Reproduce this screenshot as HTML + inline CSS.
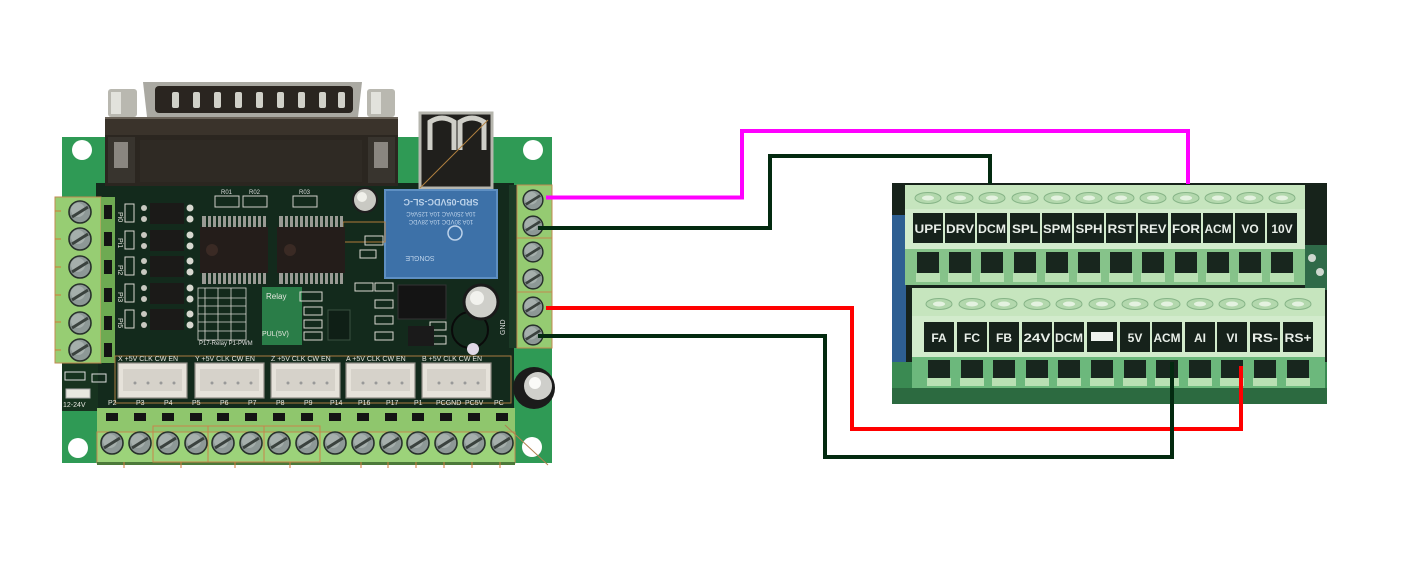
<!DOCTYPE html>
<html><head><meta charset="utf-8"><style>
html,body{margin:0;padding:0;background:#fff;width:1413px;height:571px;overflow:hidden}
svg{display:block}
text{font-family:"Liberation Sans",sans-serif}
</style></head><body>
<svg width="1413" height="571" viewBox="0 0 1413 571" xmlns="http://www.w3.org/2000/svg">
<defs>
<g id="scr"><circle r="11" fill="#8d9896" stroke="#27302b" stroke-width="1.6"/><circle cx="-2" cy="-2" r="7" fill="#b9c2c0" opacity=".55"/><line x1="-8" y1="5" x2="8" y2="-5" stroke="#3a423e" stroke-width="3"/></g>
<g id="ts"><ellipse rx="13" ry="5.5" fill="#b3d8ad" stroke="#86b487" stroke-width="1"/><ellipse rx="6" ry="2.5" fill="#e4f2e0"/></g>
<g id="opto"><rect x="0" y="0" width="34" height="21" fill="#1b1a18"/><circle cx="40" cy="5" r="3.5" fill="#d8d8d0"/><circle cx="40" cy="16" r="3.5" fill="#d8d8d0"/><circle cx="-6" cy="5" r="3" fill="#c8c8c0"/><circle cx="-6" cy="16" r="3" fill="#c8c8c0"/></g>
<g id="jst"><rect x="0" y="0" width="69" height="35" fill="#e6e2da" stroke="#8e8a84" stroke-width="1.2"/><rect x="5" y="6" width="59" height="22" fill="#d6d2ca"/><circle cx="17" cy="20" r="1.5" fill="#999"/><circle cx="30" cy="20" r="1.5" fill="#999"/><circle cx="43" cy="20" r="1.5" fill="#999"/><circle cx="56" cy="20" r="1.5" fill="#999"/></g>
</defs>

<!-- ================= LEFT BOARD ================= -->
<rect x="62" y="137" width="490" height="326" fill="#2f9a55"/>
<rect x="96" y="183" width="418" height="226" fill="#132a1c"/>
<rect x="62" y="363" width="36" height="48" fill="#17331f"/>
<!-- corner holes -->
<circle cx="82" cy="150" r="10" fill="#fff"/>
<circle cx="533" cy="150" r="10" fill="#fff"/>
<circle cx="78" cy="448" r="10" fill="#fff"/>
<circle cx="532" cy="447" r="10" fill="#fff"/>

<!-- DB25 connector -->
<rect x="105" y="117" width="293" height="69" fill="#2b2620"/>
<rect x="105" y="117" width="293" height="18" fill="#3a332b"/>
<rect x="105" y="117" width="293" height="2" fill="#6a6258"/>
<rect x="108" y="137" width="27" height="46" fill="#38342e"/>
<rect x="114" y="142" width="14" height="26" fill="#8a8680"/>
<rect x="368" y="137" width="27" height="46" fill="#38342e"/>
<rect x="374" y="142" width="14" height="26" fill="#8a8680"/>
<rect x="140" y="140" width="222" height="42" fill="#2f2a24"/>
<path d="M143 82 H362 L358 117 H147 Z" fill="#aaa9a2"/>
<rect x="155" y="86" width="198" height="27" rx="4" fill="#2a2520"/>
<g fill="#d0d0c8">
<rect x="172" y="92" width="7" height="16" rx="2"/><rect x="193" y="92" width="7" height="16" rx="2"/><rect x="214" y="92" width="7" height="16" rx="2"/><rect x="235" y="92" width="7" height="16" rx="2"/><rect x="256" y="92" width="7" height="16" rx="2"/><rect x="277" y="92" width="7" height="16" rx="2"/><rect x="298" y="92" width="7" height="16" rx="2"/><rect x="319" y="92" width="7" height="16" rx="2"/><rect x="338" y="92" width="7" height="16" rx="2"/>
</g>
<rect x="108" y="89" width="29" height="28" rx="3" fill="#b9b8b0"/>
<rect x="111" y="92" width="10" height="22" fill="#e2e2dc"/>
<rect x="367" y="89" width="28" height="28" rx="3" fill="#b9b8b0"/>
<rect x="371" y="92" width="10" height="22" fill="#e2e2dc"/>

<!-- USB -->
<rect x="420" y="113" width="72" height="75" fill="#201f1c" stroke="#b6b6ae" stroke-width="3"/>
<path d="M430 150 V122 Q442 114 454 122 V150" fill="none" stroke="#cfcfc8" stroke-width="5"/>
<path d="M460 150 V122 Q472 114 484 122 V150" fill="none" stroke="#cfcfc8" stroke-width="5"/>
<line x1="420" y1="188" x2="488" y2="120" stroke="#b08040" stroke-width="1"/>

<!-- Relay -->
<rect x="385" y="190" width="112" height="88" fill="#3d71a8" stroke="#5e8fc2" stroke-width="2"/>
<text x="441" y="205" transform="rotate(180 441 202)" font-size="9" fill="#bcd2ea" text-anchor="middle" font-weight="bold">SRD-05VDC-SL-C</text>
<text x="441" y="218" transform="rotate(180 441 215)" font-size="6" fill="#bcd2ea" text-anchor="middle">10A 250VAC 10A 125VAC</text>
<text x="441" y="226" transform="rotate(180 441 223)" font-size="6" fill="#bcd2ea" text-anchor="middle">10A 30VDC 10A 28VDC</text>
<circle cx="455" cy="233" r="7" fill="none" stroke="#bcd2ea" stroke-width="1.5"/>
<text x="420" y="262" transform="rotate(180 420 259)" font-size="7" fill="#bcd2ea" text-anchor="middle">SONGLE</text>
<rect x="343" y="222" width="42" height="20" fill="none" stroke="#b07a3a" stroke-width="1"/>

<!-- ICs -->
<g fill="#9a9a94">
<rect x="202" y="216" width="64" height="11"/><rect x="279" y="216" width="64" height="11"/>
<rect x="202" y="273" width="64" height="11"/><rect x="279" y="273" width="64" height="11"/>
</g>
<g stroke="#132a1c" stroke-width="2">
<path d="M207 216V227M212 216V227M217 216V227M222 216V227M227 216V227M232 216V227M237 216V227M242 216V227M247 216V227M252 216V227M257 216V227M262 216V227"/>
<path d="M207 273V284M212 273V284M217 273V284M222 273V284M227 273V284M232 273V284M237 273V284M242 273V284M247 273V284M252 273V284M257 273V284M262 273V284"/>
<path d="M284 216V227M289 216V227M294 216V227M299 216V227M304 216V227M309 216V227M314 216V227M319 216V227M324 216V227M329 216V227M334 216V227M339 216V227"/>
<path d="M284 273V284M289 273V284M294 273V284M299 273V284M304 273V284M309 273V284M314 273V284M319 273V284M324 273V284M329 273V284M334 273V284M339 273V284"/>
</g>
<rect x="200" y="227" width="68" height="46" fill="#241d1a"/>
<rect x="277" y="227" width="68" height="46" fill="#241d1a"/>
<circle cx="212" cy="250" r="6" fill="#3a2a24"/><circle cx="290" cy="250" r="6" fill="#3a2a24"/>
<!-- resistor arrays -->
<g fill="none" stroke="#cfcfc8" stroke-width="1">
<rect x="215" y="196" width="24" height="11"/><rect x="243" y="196" width="24" height="11"/><rect x="293" y="196" width="24" height="11"/>
</g>
<text x="221" y="194" font-size="6" fill="#ddd">R01</text><text x="249" y="194" font-size="6" fill="#ddd">R02</text><text x="299" y="194" font-size="6" fill="#ddd">R03</text>

<!-- optocouplers -->
<use href="#opto" x="150" y="203"/>
<use href="#opto" x="150" y="230"/>
<use href="#opto" x="150" y="256"/>
<use href="#opto" x="150" y="283"/>
<use href="#opto" x="150" y="309"/>
<g fill="none" stroke="#d8d8d0" stroke-width="1">
<rect x="125" y="204" width="9" height="18"/><rect x="125" y="231" width="9" height="18"/><rect x="125" y="257" width="9" height="18"/><rect x="125" y="284" width="9" height="18"/><rect x="125" y="310" width="9" height="18"/>
</g>
<g font-size="7" fill="#e0e0d8">
<text x="118" y="212" transform="rotate(90 118 212)">Pi0</text>
<text x="118" y="238" transform="rotate(90 118 238)">Pi1</text>
<text x="118" y="265" transform="rotate(90 118 265)">Pi2</text>
<text x="118" y="292" transform="rotate(90 118 292)">Pi3</text>
<text x="118" y="318" transform="rotate(90 118 318)">Pi5</text>
</g>

<!-- grid table -->
<rect x="262" y="287" width="40" height="58" fill="#2a7d48"/>
<g fill="none" stroke="#d8d8d0" stroke-width="0.8">
<rect x="198" y="288" width="48" height="52"/>
<path d="M198 298H246M198 306H246M198 314H246M198 322H246M198 331H246M205 288V340M218 288V340M231 288V340"/>
</g>
<text x="199" y="345" font-size="6" fill="#ddd">P17-Relay P1-PWM</text>
<text x="266" y="299" font-size="8" fill="#e8e8e0">Relay</text>
<text x="262" y="336" font-size="7" fill="#e8e8e0">PUL(5V)</text>
<g fill="none" stroke="#d8d8d0" stroke-width="1">
<rect x="300" y="292" width="22" height="9"/><rect x="304" y="307" width="18" height="8"/><rect x="304" y="320" width="18" height="8"/><rect x="304" y="332" width="18" height="8"/>
<rect x="355" y="283" width="18" height="8"/><rect x="375" y="283" width="18" height="8"/><rect x="375" y="300" width="18" height="8"/><rect x="375" y="316" width="18" height="8"/><rect x="375" y="332" width="18" height="8"/>
<rect x="365" y="236" width="18" height="9"/><rect x="360" y="250" width="16" height="8"/>
<rect x="430" y="336" width="16" height="8"/><rect x="430" y="322" width="16" height="8"/>
</g>
<rect x="328" y="310" width="22" height="30" fill="#0f1f16" stroke="#3a5040"/>
<rect x="398" y="285" width="48" height="34" fill="#141414" stroke="#333" stroke-width="1"/>
<rect x="408" y="326" width="26" height="20" fill="#1a1a1a"/>
<!-- caps -->
<circle cx="365" cy="200" r="12" fill="#c9c9c3" stroke="#1e1e1e" stroke-width="2"/>
<circle cx="362" cy="197" r="5" fill="#f0f0ea"/>
<circle cx="470" cy="330" r="18" fill="none" stroke="#0a0a0a" stroke-width="2"/>
<circle cx="473" cy="349" r="6" fill="#e0d8e6"/>
<circle cx="481" cy="302" r="17" fill="#cfcfca" stroke="#1a1a1a" stroke-width="3"/>
<circle cx="477" cy="298" r="7" fill="#f2f2ee"/>
<circle cx="534" cy="388" r="21" fill="#1b1b1b"/>
<circle cx="538" cy="386" r="14" fill="#cfcfcb"/>
<circle cx="535" cy="383" r="6" fill="#fafaf8"/>

<!-- right terminal strip -->
<rect x="509" y="185" width="8" height="163" fill="#1b3a26"/>
<rect x="517" y="185" width="35" height="163" fill="#95cb72" stroke="#c28a50" stroke-width="1"/>
<line x1="517" y1="238" x2="552" y2="238" stroke="#c28a50" stroke-width="1"/>
<line x1="517" y1="292" x2="552" y2="292" stroke="#c28a50" stroke-width="1"/>
<use href="#scr" transform="translate(533 200) scale(.9)"/>
<use href="#scr" transform="translate(533 226) scale(.9)"/>
<use href="#scr" transform="translate(533 252) scale(.9)"/>
<use href="#scr" transform="translate(533 279) scale(.9)"/>
<use href="#scr" transform="translate(533 307) scale(.9)"/>
<use href="#scr" transform="translate(533 335) scale(.9)"/>
<text x="505" y="335" font-size="7" fill="#ddd" transform="rotate(-90 505 335)">GND</text>

<!-- left terminal strip -->
<rect x="55" y="197" width="46" height="166" fill="#97cd73" stroke="#c28a50" stroke-width="1"/>
<rect x="101" y="197" width="14" height="166" fill="#6eaa52"/>
<g fill="#141414">
<rect x="104" y="205" width="8" height="14"/><rect x="104" y="232" width="8" height="14"/><rect x="104" y="260" width="8" height="14"/><rect x="104" y="288" width="8" height="14"/><rect x="104" y="316" width="8" height="14"/><rect x="104" y="343" width="8" height="14"/>
</g>
<use href="#scr" transform="translate(80 212)"/>
<use href="#scr" transform="translate(80 239)"/>
<use href="#scr" transform="translate(80 267)"/>
<use href="#scr" transform="translate(80 295)"/>
<use href="#scr" transform="translate(80 323)"/>
<use href="#scr" transform="translate(80 350)"/>
<g stroke="#d07a3a" stroke-width="1"><path d="M55 211h6M55 239h6M55 267h6M55 295h6M55 322h6M55 350h6"/></g>

<!-- JST connectors + silkscreen -->
<rect x="115" y="356" width="396" height="47" fill="none" stroke="#a87a40" stroke-width="1"/>
<use href="#jst" x="118" y="363"/>
<use href="#jst" x="195" y="363"/>
<use href="#jst" x="271" y="363"/>
<use href="#jst" x="346" y="363"/>
<use href="#jst" x="422" y="363"/>
<g font-size="7" fill="#e6e6de">
<text x="118" y="361">X +5V CLK CW EN</text>
<text x="195" y="361">Y +5V CLK CW EN</text>
<text x="271" y="361">Z +5V CLK CW EN</text>
<text x="346" y="361">A +5V CLK CW EN</text>
<text x="422" y="361">B +5V CLK CW EN</text>
<text x="108" y="405">P2</text><text x="136" y="405">P3</text><text x="164" y="405">P4</text><text x="192" y="405">P5</text><text x="220" y="405">P6</text><text x="248" y="405">P7</text><text x="276" y="405">P8</text><text x="304" y="405">P9</text><text x="330" y="405">P14</text><text x="358" y="405">P16</text><text x="386" y="405">P17</text><text x="414" y="405">P1</text><text x="436" y="405">PCGND</text><text x="465" y="405">PC5V</text><text x="494" y="405">PC</text>
<text x="63" y="407">12-24V</text>
</g>
<rect x="65" y="372" width="20" height="8" fill="none" stroke="#ddd" stroke-width="1"/>
<rect x="66" y="389" width="24" height="9" fill="#e8e8e0" stroke="#aaa"/>
<rect x="92" y="374" width="14" height="8" fill="none" stroke="#ddd" stroke-width="1"/>

<!-- bottom terminal strip -->
<rect x="97" y="408" width="418" height="24" fill="#8fc66d"/>
<rect x="97" y="432" width="418" height="31" fill="#9cd37a" stroke="#c28a50" stroke-width="1"/>
<rect x="97" y="462" width="418" height="3" fill="#4c7a3a"/>
<g fill="#141414">
<rect x="106" y="413" width="12" height="8"/><rect x="134" y="413" width="12" height="8"/><rect x="162" y="413" width="12" height="8"/><rect x="190" y="413" width="12" height="8"/><rect x="217" y="413" width="12" height="8"/><rect x="245" y="413" width="12" height="8"/><rect x="273" y="413" width="12" height="8"/><rect x="301" y="413" width="12" height="8"/><rect x="329" y="413" width="12" height="8"/><rect x="357" y="413" width="12" height="8"/><rect x="385" y="413" width="12" height="8"/><rect x="412" y="413" width="12" height="8"/><rect x="440" y="413" width="12" height="8"/><rect x="468" y="413" width="12" height="8"/><rect x="496" y="413" width="12" height="8"/>
</g>
<g fill="none" stroke="#c8844a" stroke-width="1">
<rect x="153" y="426" width="55" height="36"/><rect x="208" y="426" width="56" height="36"/><rect x="264" y="426" width="56" height="36"/>
</g>
<use href="#scr" transform="translate(112 443)"/>
<use href="#scr" transform="translate(140 443)"/>
<use href="#scr" transform="translate(168 443)"/>
<use href="#scr" transform="translate(196 443)"/>
<use href="#scr" transform="translate(223 443)"/>
<use href="#scr" transform="translate(251 443)"/>
<use href="#scr" transform="translate(279 443)"/>
<use href="#scr" transform="translate(307 443)"/>
<use href="#scr" transform="translate(335 443)"/>
<use href="#scr" transform="translate(363 443)"/>
<use href="#scr" transform="translate(391 443)"/>
<use href="#scr" transform="translate(418 443)"/>
<use href="#scr" transform="translate(446 443)"/>
<use href="#scr" transform="translate(474 443)"/>
<use href="#scr" transform="translate(502 443)"/>
<g stroke="#d07a3a" stroke-width="1"><path d="M124 462v6M181 462v6M235 462v6M290 462v6M361 462v6M388 462v6M416 462v6M444 462v6M472 462v6M500 462v6"/></g>
<line x1="505" y1="425" x2="548" y2="465" stroke="#b08050" stroke-width="1"/>

<!-- ================= RIGHT PHOTO ================= -->
<rect x="892" y="183" width="435" height="221" fill="#17231b"/>
<rect x="892" y="215" width="14" height="147" fill="#2e5f92"/>
<rect x="892" y="362" width="435" height="42" fill="#3a8a52"/>
<rect x="1305" y="245" width="22" height="45" fill="#2f6a48"/>
<circle cx="1312" cy="258" r="4" fill="#cfd8d0"/><circle cx="1320" cy="272" r="4" fill="#cfd8d0"/>

<!-- top terminal block -->
<rect x="905" y="185" width="400" height="100" fill="#9ccf9a"/>
<rect x="905" y="185" width="400" height="26" fill="#c6e5be"/>
<rect x="905" y="209" width="400" height="40" fill="#d2ebcc"/>
<rect x="905" y="249" width="400" height="36" fill="#86c38a"/>
<use href="#ts" x="928" y="198"/><use href="#ts" x="960" y="198"/><use href="#ts" x="992" y="198"/><use href="#ts" x="1025" y="198"/><use href="#ts" x="1057" y="198"/><use href="#ts" x="1089" y="198"/><use href="#ts" x="1121" y="198"/><use href="#ts" x="1153" y="198"/><use href="#ts" x="1186" y="198"/><use href="#ts" x="1218" y="198"/><use href="#ts" x="1250" y="198"/><use href="#ts" x="1282" y="198"/>
<g fill="#16221b">
<rect x="913" y="213" width="30" height="30"/><rect x="945" y="213" width="30" height="30"/><rect x="977" y="213" width="30" height="30"/><rect x="1010" y="213" width="30" height="30"/><rect x="1042" y="213" width="30" height="30"/><rect x="1074" y="213" width="30" height="30"/><rect x="1106" y="213" width="30" height="30"/><rect x="1138" y="213" width="30" height="30"/><rect x="1171" y="213" width="30" height="30"/><rect x="1203" y="213" width="30" height="30"/><rect x="1235" y="213" width="30" height="30"/><rect x="1267" y="213" width="30" height="30"/>
</g>
<g font-size="12" font-weight="bold" fill="#e8eee8" text-anchor="middle">
<text x="928" y="233" textLength="27" lengthAdjust="spacingAndGlyphs">UPF</text>
<text x="960" y="233" textLength="28" lengthAdjust="spacingAndGlyphs">DRV</text>
<text x="992" y="233" textLength="28" lengthAdjust="spacingAndGlyphs">DCM</text>
<text x="1025" y="233" textLength="26" lengthAdjust="spacingAndGlyphs">SPL</text>
<text x="1057" y="233" textLength="28" lengthAdjust="spacingAndGlyphs">SPM</text>
<text x="1089" y="233" textLength="27" lengthAdjust="spacingAndGlyphs">SPH</text>
<text x="1121" y="233" textLength="27" lengthAdjust="spacingAndGlyphs">RST</text>
<text x="1153" y="233" textLength="27" lengthAdjust="spacingAndGlyphs">REV</text>
<text x="1186" y="233" textLength="28" lengthAdjust="spacingAndGlyphs">FOR</text>
<text x="1218" y="233" textLength="27" lengthAdjust="spacingAndGlyphs">ACM</text>
<text x="1250" y="233">VO</text>
<text x="1282" y="233">10V</text>
</g>
<g fill="#18261e">
<rect x="917" y="252" width="22" height="21"/><rect x="949" y="252" width="22" height="21"/><rect x="981" y="252" width="22" height="21"/><rect x="1014" y="252" width="22" height="21"/><rect x="1046" y="252" width="22" height="21"/><rect x="1078" y="252" width="22" height="21"/><rect x="1110" y="252" width="22" height="21"/><rect x="1142" y="252" width="22" height="21"/><rect x="1175" y="252" width="22" height="21"/><rect x="1207" y="252" width="22" height="21"/><rect x="1239" y="252" width="22" height="21"/><rect x="1271" y="252" width="22" height="21"/>
</g>
<g fill="#b9e0b3">
<rect x="916" y="273" width="24" height="9"/><rect x="948" y="273" width="24" height="9"/><rect x="980" y="273" width="24" height="9"/><rect x="1013" y="273" width="24" height="9"/><rect x="1045" y="273" width="24" height="9"/><rect x="1077" y="273" width="24" height="9"/><rect x="1109" y="273" width="24" height="9"/><rect x="1141" y="273" width="24" height="9"/><rect x="1174" y="273" width="24" height="9"/><rect x="1206" y="273" width="24" height="9"/><rect x="1238" y="273" width="24" height="9"/><rect x="1270" y="273" width="24" height="9"/>
</g>

<!-- bottom terminal block -->
<rect x="912" y="288" width="413" height="100" fill="#8fca92"/>
<rect x="912" y="288" width="413" height="30" fill="#c6e5be"/>
<rect x="912" y="316" width="413" height="41" fill="#d2ebcc"/>
<rect x="912" y="357" width="413" height="31" fill="#6cb87c"/>
<use href="#ts" x="939" y="304"/><use href="#ts" x="972" y="304"/><use href="#ts" x="1004" y="304"/><use href="#ts" x="1037" y="304"/><use href="#ts" x="1069" y="304"/><use href="#ts" x="1102" y="304"/><use href="#ts" x="1135" y="304"/><use href="#ts" x="1167" y="304"/><use href="#ts" x="1200" y="304"/><use href="#ts" x="1232" y="304"/><use href="#ts" x="1265" y="304"/><use href="#ts" x="1298" y="304"/>
<g fill="#16221b">
<rect x="924" y="322" width="30" height="30"/><rect x="957" y="322" width="30" height="30"/><rect x="989" y="322" width="30" height="30"/><rect x="1022" y="322" width="30" height="30"/><rect x="1054" y="322" width="30" height="30"/><rect x="1087" y="322" width="30" height="30"/><rect x="1120" y="322" width="30" height="30"/><rect x="1152" y="322" width="30" height="30"/><rect x="1185" y="322" width="30" height="30"/><rect x="1217" y="322" width="30" height="30"/><rect x="1250" y="322" width="30" height="30"/><rect x="1283" y="322" width="30" height="30"/>
</g>
<rect x="1091" y="332" width="22" height="9" fill="#eef2ee"/>
<g font-size="12" font-weight="bold" fill="#e8eee8" text-anchor="middle">
<text x="939" y="342">FA</text>
<text x="972" y="342">FC</text>
<text x="1004" y="342">FB</text>
<text x="1037" y="342" textLength="27" lengthAdjust="spacingAndGlyphs">24V</text>
<text x="1069" y="342" textLength="28" lengthAdjust="spacingAndGlyphs">DCM</text>
<text x="1135" y="342">5V</text>
<text x="1167" y="342" textLength="27" lengthAdjust="spacingAndGlyphs">ACM</text>
<text x="1200" y="342">AI</text>
<text x="1232" y="342">VI</text>
<text x="1265" y="342" textLength="26" lengthAdjust="spacingAndGlyphs">RS-</text>
<text x="1298" y="342" textLength="27" lengthAdjust="spacingAndGlyphs">RS+</text>
</g>
<g fill="#18261e">
<rect x="928" y="360" width="22" height="18"/><rect x="961" y="360" width="22" height="18"/><rect x="993" y="360" width="22" height="18"/><rect x="1026" y="360" width="22" height="18"/><rect x="1058" y="360" width="22" height="18"/><rect x="1091" y="360" width="22" height="18"/><rect x="1124" y="360" width="22" height="18"/><rect x="1156" y="360" width="22" height="18"/><rect x="1189" y="360" width="22" height="18"/><rect x="1221" y="360" width="22" height="18"/><rect x="1254" y="360" width="22" height="18"/><rect x="1287" y="360" width="22" height="18"/>
</g>
<g fill="#b9e0b3">
<rect x="927" y="378" width="24" height="8"/><rect x="960" y="378" width="24" height="8"/><rect x="992" y="378" width="24" height="8"/><rect x="1025" y="378" width="24" height="8"/><rect x="1057" y="378" width="24" height="8"/><rect x="1090" y="378" width="24" height="8"/><rect x="1123" y="378" width="24" height="8"/><rect x="1155" y="378" width="24" height="8"/><rect x="1188" y="378" width="24" height="8"/><rect x="1220" y="378" width="24" height="8"/><rect x="1253" y="378" width="24" height="8"/><rect x="1286" y="378" width="24" height="8"/>
</g>
<rect x="892" y="388" width="435" height="16" fill="#2c6a40"/>

<!-- ================= WIRES ================= -->
<g fill="none" stroke-width="4" stroke-linejoin="miter" stroke-linecap="butt">
<path d="M546 197.5 H742 V131 H1188 V184" stroke="#ff00ff"/>
<path d="M538 228 H770 V156 H990 V184" stroke="#032a10"/>
<path d="M546 308 H852 V429 H1241 V366" stroke="#ff0000"/>
<path d="M538 336 H825 V457 H1172 V362" stroke="#032a10"/>
</g>
</svg>
</body></html>
